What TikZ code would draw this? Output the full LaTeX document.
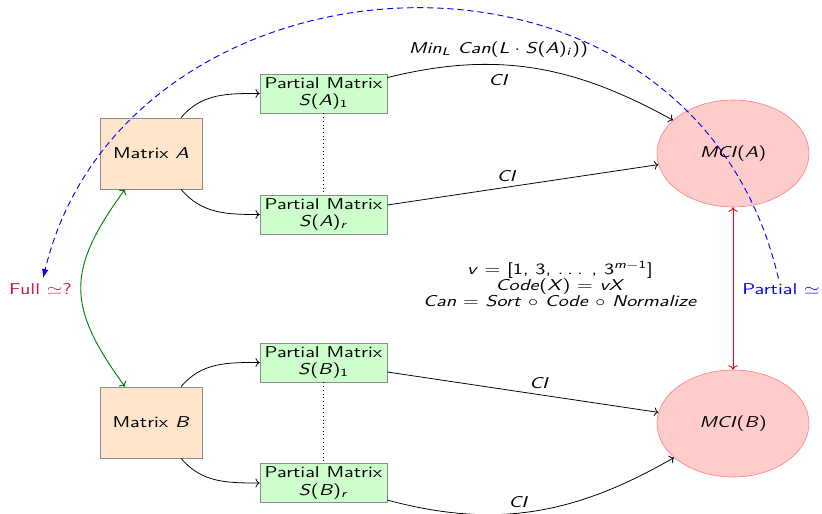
\documentclass[tikz,border=0pt]{standalone}
\usepackage{graphicx}
\usetikzlibrary{arrows.meta,shapes.geometric}
% horizontally widened text
\newcommand\hs[1]{\scalebox{1.29}[1]{#1}}
\definecolor{fullcol}{RGB}{200,20,90}
\begin{document}
\begin{tikzpicture}[x=0.645pt,y=-0.645pt,
  every node/.style={font=\sffamily\fontsize{10.1}{11}\selectfont},
  matbox/.style={draw=black!45, fill=orange!20, minimum width=65.8pt, minimum height=45.8pt, inner sep=0pt},
  partbox/.style={draw=black!45, fill=green!20, minimum width=81.9pt, minimum height=25.2pt, inner sep=0pt, align=center},
  mci/.style={ellipse, draw=red!50, fill=red!20, minimum width=98pt, minimum height=69pt, inner sep=0pt},
  flow/.style={-To, line width=0.5pt},
  twoway/.style={To-To, line width=0.6pt}
]
\useasboundingbox (0,0) rectangle (822,513);

% matrices
\node[matbox] (ma) at (151,153.5) {\hs{Matrix \textit{A}}};
\node[matbox] (mb) at (151,422.5) {\hs{Matrix \textit{B}}};

% partial matrices
\node[partbox] (sa1) at (323.5,93.5) {\hs{Partial Matrix}\\\hs{\textit{S}(\textit{A})\textsubscript{1}}};
\node[partbox] (sar) at (323.5,214.5) {\hs{Partial Matrix}\\\hs{\textit{S}(\textit{A})\textsubscript{\textit{r}}}};
\node[partbox] (sb1) at (323.5,362.5) {\hs{Partial Matrix}\\\hs{\textit{S}(\textit{B})\textsubscript{1}}};
\node[partbox] (sbr) at (323.5,483) {\hs{Partial Matrix}\\\hs{\textit{S}(\textit{B})\textsubscript{\textit{r}}}};

% invariants
\node[mci] (ca) at (733,153.5) {\hs{\textit{MCI}(\textit{A})}};
\node[mci] (cb) at (733,423.5) {\hs{\textit{MCI}(\textit{B})}};

% side labels
\node[text=fullcol] (full) at (40.5,289) {\hs{Full $\simeq$?}};
\node[text=blue] (part) at (781,289.5) {\hs{Partial $\simeq$}};

% definitions
\node[align=center, font=\sffamily\fontsize{10.1}{10.4}\selectfont] (eqs) at (560,284)
  {\hs{\textit{v} = [1, 3, .\hspace{0.2em}.\hspace{0.2em}. , 3\textsuperscript{\textit{m}$-$1}]}\\
   \hs{\textit{Code}(\textit{X}) = \textit{vX}}\\
   \hs{\textit{Can} = \textit{Sort} $\circ$ \textit{Code} $\circ$ \textit{Normalize}}};

% splitting into partial matrices
\draw[flow] (ma) to[out=50,in=180] (sa1);
\draw[flow] (ma) to[out=-50,in=180] (sar);
\draw[flow] (mb) to[out=50,in=180] (sb1);
\draw[flow] (mb) to[out=-50,in=180] (sbr);
\draw[dotted] (sa1) -- (sar);
\draw[dotted] (sb1) -- (sbr);

% canonical invariants
\draw[flow] (sa1) to[out=14,in=151]
  node[pos=0.37, above=1pt] {\hs{\textit{Min}\textsubscript{\textit{L}}~\textit{Can}(\textit{L}\hspace{0.25em}$\cdot$\hspace{0.25em}\textit{S}(\textit{A})\textsubscript{\textit{i}}))}}
  node[pos=0.37, below=3pt] {\hs{\textit{CI}}} (ca);
\draw[flow] (sar) -- node[pos=0.44, above] {\hs{\textit{CI}}} (ca);
\draw[flow] (sb1) -- node[pos=0.56, above] {\hs{\textit{CI}}} (cb);
\draw[flow] (sbr) to[out=-15,in=210] node[pos=0.44, above] {\hs{\textit{CI}}} (cb);

% comparisons
\draw[twoway, red] (ca) -- (cb);
\draw[twoway, green!50!black] (ma) to[out=-126,in=126,looseness=1.3] (mb);
\draw[blue, line width=0.6pt, dash pattern=on 4pt off 2.5pt, -Latex]
  (part) .. controls (690,-100) and (125,-62) .. (full);
\end{tikzpicture}
\end{document}
